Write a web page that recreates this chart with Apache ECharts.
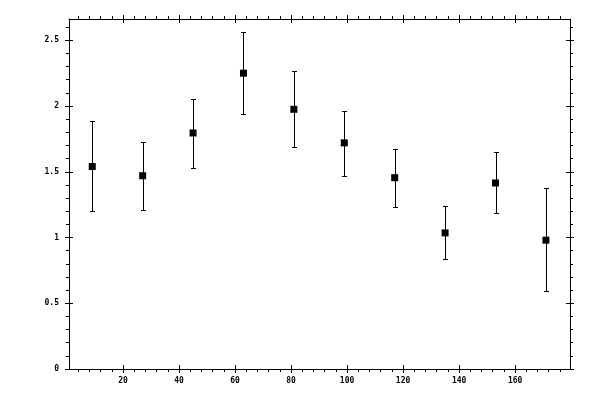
<!DOCTYPE html>
<html>
<head>
<meta charset="utf-8">
<script src="https://cdn.jsdelivr.net/npm/echarts@6/dist/echarts.min.js"></script>
<style>
html,body{margin:0;padding:0;background:#fff;}
#chart{width:600px;height:400px;}
</style>
</head>
<body>
<div id="chart"></div>
<script>
// ---- data ----
const xValues = [9, 27, 45, 63, 81, 99, 117, 135, 153, 171];
const yValues = [1.54, 1.47, 1.795, 2.25, 1.975, 1.72, 1.455, 1.035, 1.415, 0.98];
const yUpper  = [1.89, 1.725, 2.055, 2.56, 2.265, 1.96, 1.67, 1.24, 1.65, 1.375];
const yLower  = [1.20, 1.21, 1.53, 1.94, 1.69, 1.47, 1.235, 0.835, 1.185, 0.595];

// ---- tick values ----
const xMajorTicks = [20, 40, 60, 80, 100, 120, 140, 160];
const xMinorTicks = [4, 8, 12, 16, 24, 28, 32, 36, 44, 48, 52, 56, 64, 68, 72, 76,
  84, 88, 92, 96, 104, 108, 112, 116, 124, 128, 132, 136, 144, 148, 152, 156,
  164, 168, 172, 176];
const yMajorTicks = [0, 0.5, 1, 1.5, 2, 2.5];
const yMinorTicks = [0.1, 0.2, 0.3, 0.4, 0.6, 0.7, 0.8, 0.9, 1.1, 1.2, 1.3, 1.4,
  1.6, 1.7, 1.8, 1.9, 2.1, 2.2, 2.3, 2.4, 2.6];

const X_MIN = 0.7, X_MAX = 179.6;
const Y_MIN = 0, Y_MAX = 2.662;

const FONT = 'DejaVu Sans Mono';

function axis(dim, position, ticks, opts) {
  const o = {
    type: 'value',
    position: position,
    min: dim === 'x' ? X_MIN : Y_MIN,
    max: dim === 'x' ? X_MAX : Y_MAX,
    splitLine: { show: false },
    axisLine: { show: !!opts.line, onZero: false, lineStyle: { color: '#000', width: 1 } },
    axisTick: {
      show: true,
      customValues: ticks,
      inside: !!opts.inside,
      length: opts.len,
      lineStyle: { color: '#000', width: 1 }
    },
    axisLabel: { show: false },
    axisPointer: { show: false }
  };
  if (opts.labels) {
    o.axisLabel = {
      show: true,
      customValues: opts.labels,
      color: '#000',
      fontFamily: FONT,
      fontSize: 8,
      fontWeight: 'bold',
      margin: opts.margin,
      formatter: function (v) { return String(v); }
    };
  }
  return o;
}

const xAxes = [
  axis('x', 'bottom', xMajorTicks, { line: true, len: 4, labels: xMajorTicks, margin: 8 }),
  axis('x', 'bottom', xMajorTicks, { inside: true, len: 4 }),
  axis('x', 'bottom', xMinorTicks, { len: 3 }),
  axis('x', 'top', xMajorTicks, { line: true, len: 4 }),
  axis('x', 'top', xMajorTicks, { inside: true, len: 4 }),
  axis('x', 'top', xMinorTicks, { len: 3 })
];
const yAxes = [
  axis('y', 'left', yMajorTicks, { line: true, len: 4, labels: yMajorTicks, margin: 10 }),
  axis('y', 'left', yMajorTicks, { inside: true, len: 4 }),
  axis('y', 'left', yMinorTicks, { len: 3 }),
  axis('y', 'right', yMajorTicks, { line: true, len: 4 }),
  axis('y', 'right', yMajorTicks, { inside: true, len: 4 }),
  axis('y', 'right', yMinorTicks, { len: 3 })
];

const points = xValues.map((x, i) => [x, yValues[i]]);
const bars = xValues.map((x, i) => [x, yLower[i], yUpper[i]]);

const chart = echarts.init(document.getElementById('chart'), null, { renderer: 'canvas' });
chart.setOption({
  animation: false,
  backgroundColor: '#fff',
  grid: { left: 69, right: 30, top: 19, bottom: 31 },
  xAxis: xAxes,
  yAxis: yAxes,
  series: [
    {
      type: 'custom',
      xAxisIndex: 0,
      yAxisIndex: 0,
      data: bars,
      renderItem: function (params, api) {
        const x = api.value(0);
        const lo = api.coord([x, api.value(1)]);
        const hi = api.coord([x, api.value(2)]);
        const px = Math.round(lo[0]) + 0.5;
        const yl = Math.round(lo[1]) + 0.5;
        const yh = Math.round(hi[1]) + 0.5;
        const hw = 2.5;
        const style = { stroke: '#000', lineWidth: 1, fill: null };
        return {
          type: 'group',
          children: [
            { type: 'line', shape: { x1: px, y1: yl, x2: px, y2: yh }, style: style },
            { type: 'line', shape: { x1: px - hw, y1: yh, x2: px + hw, y2: yh }, style: style },
            { type: 'line', shape: { x1: px - hw, y1: yl, x2: px + hw, y2: yl }, style: style }
          ]
        };
      },
      z: 2
    },
    {
      type: 'scatter',
      xAxisIndex: 0,
      yAxisIndex: 0,
      data: points,
      symbol: 'rect',
      symbolSize: 7,
      itemStyle: { color: '#000', opacity: 1 },
      emphasis: { disabled: true },
      z: 3
    }
  ]
});
</script>
</body>
</html>
